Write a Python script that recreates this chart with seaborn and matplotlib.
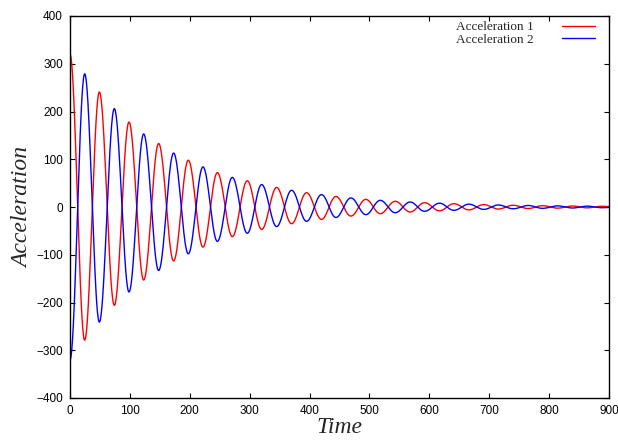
import numpy as np
import pandas as pd
import matplotlib
matplotlib.use("Agg")
import matplotlib.pyplot as plt
import seaborn as sns

# Extrema of "Acceleration 1" (time, value); Acceleration 2 mirrors it
ext_time = [0, 24.5, 49, 74, 98.5, 123, 148, 173, 197.5, 222, 246, 271, 296, 320,
            345, 370, 395, 420, 444, 469, 494, 518, 543, 568, 592, 617, 641, 666,
            691, 715, 740, 765, 789, 814, 839, 863, 888, 900]
ext_acc1 = [320, -279, 241, -206, 178, -153, 133, -113, 98, -84, 72, -62, 55, -47,
            41, -35, 30, -26, 22, -19, 16, -14, 12, -10.5, 9, -8, 7, -6, 5, -4.3,
            3.7, -3.2, 2.8, -2.4, 2.1, -1.8, 1.5, 0.8]
ext_acc2 = [-320, 279, -241, 206, -178, 153, -133, 113, -98, 84, -72, 62, -55, 47,
            -41, 35, -30, 26, -22, 19, -16, 14, -12, 10.5, -9, 8, -7, 6, -5, 4.3,
            -3.7, 3.2, -2.8, 2.4, -2.1, 1.8, -1.5, -0.8]
series_names = ["Acceleration 1", "Acceleration 2"]
x_ticks = list(range(0, 901, 100))
y_ticks = list(range(-400, 401, 100))


def trace(ts, vs, n=40):
    # half-cosine easing between consecutive read extrema
    tt, vv = [], []
    for i in range(len(ts) - 1):
        t0, t1, v0, v1 = ts[i], ts[i + 1], vs[i], vs[i + 1]
        s = np.linspace(0, 1, n, endpoint=False)
        tt.append(t0 + (t1 - t0) * s)
        vv.append(v1 + (v0 - v1) * (1 + np.cos(np.pi * s)) / 2)
    tt.append([ts[-1]]); vv.append([vs[-1]])
    return np.concatenate(tt), np.concatenate(vv)


frames = []
for name, vals in zip(series_names, [ext_acc1, ext_acc2]):
    t, v = trace(ext_time, vals)
    frames.append(pd.DataFrame({"Time": t, "Acceleration": v, "series": name}))
df = pd.concat(frames, ignore_index=True)

sns.set_style("ticks")
plt.rcParams["font.family"] = ["Liberation Sans", "DejaVu Sans"]

fig = plt.figure(figsize=(6.18, 4.41), dpi=100)
ax = fig.add_axes([70 / 618, 1 - 398 / 441, 539 / 618, 382 / 441])

sns.lineplot(data=df, x="Time", y="Acceleration", hue="series",
             palette=["#ff0000", "#0000ff"], estimator=None, sort=False,
             linewidth=1.0, ax=ax)

ax.set_xlim(0, 900)
ax.set_ylim(-400, 400)
ax.set_xticks(x_ticks)
ax.set_yticks(y_ticks)
ax.tick_params(direction="in", top=True, right=True, length=3.5, width=0.8,
               labelsize=8.5, pad=5, colors="black")
for sp in ax.spines.values():
    sp.set_linewidth(1.0)
    sp.set_color("black")

serif = {"family": ["Liberation Serif", "DejaVu Serif"], "style": "italic", "size": 17}
ax.set_xlabel("Time", fontdict=serif, labelpad=0)
ax.set_ylabel("Acceleration", fontdict=serif, labelpad=2)

leg = ax.legend(loc="upper right", frameon=False, markerfirst=False,
                bbox_to_anchor=(1 - 7 / 539, 1 + 1.5 / 382),
                prop={"family": ["Liberation Serif", "DejaVu Serif"], "size": 9.5},
                handlelength=2.5, handletextpad=2.2, labelspacing=0.0,
                borderaxespad=0.3, borderpad=0.2)
for line in leg.get_lines():
    line.set_linewidth(1.0)

fig.savefig("out.png", dpi=100)
